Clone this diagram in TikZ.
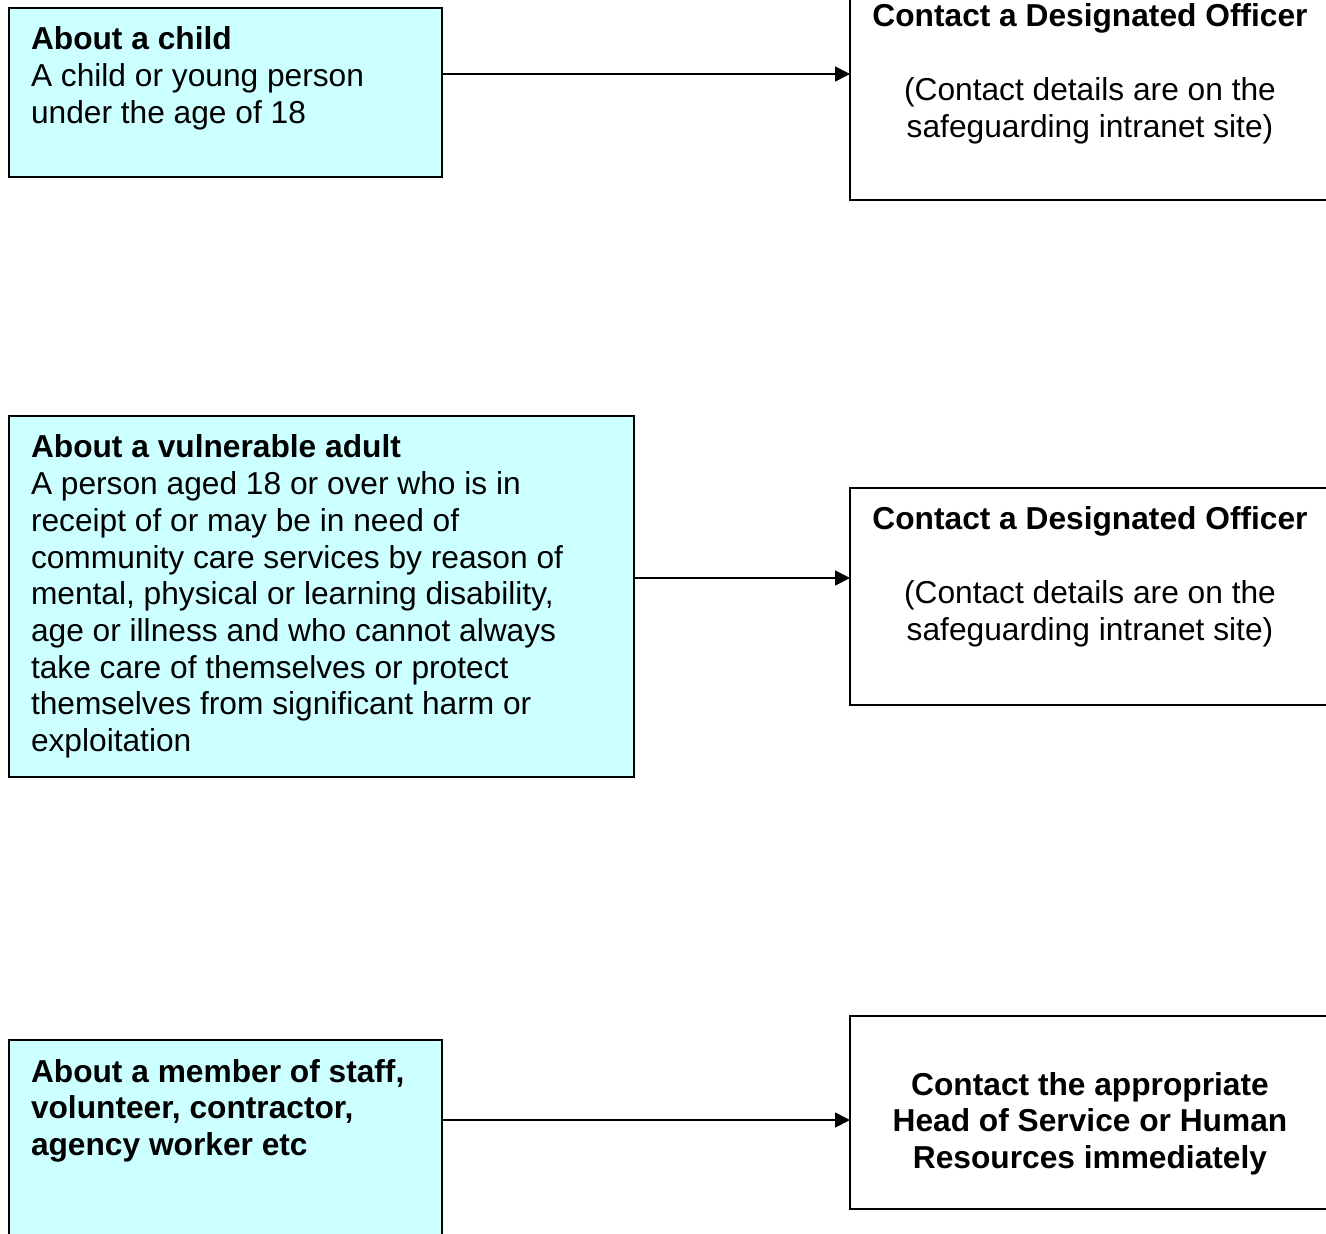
\documentclass[tikz,border=0pt]{standalone}
\usepackage{fontspec}
\setmainfont{Liberation Sans}
\usetikzlibrary{arrows.meta}
\begin{document}
\begin{tikzpicture}[x=1pt,y=-1pt,
  boxline/.style={draw=black,line width=1.8pt,inner sep=0pt,outer sep=0pt,anchor=north west},
  leftbox/.style={boxline,fill=cyanfill},
  rightbox/.style={boxline,fill=white},
  txt/.style={inner sep=0pt,outer sep=0pt,font=\fontsize{31.7}{36.7}\selectfont},
  lefttxt/.style={txt,align=left,anchor=north west},
  righttxt/.style={txt,align=center,anchor=north},
  arr/.style={line width=1.8pt,-{Triangle[length=15pt,width=15pt]}}]
\definecolor{cyanfill}{HTML}{CCFFFF}
\clip (0,0) rectangle (1326,1234);
\fill[white] (0,0) rectangle (1326,1234);
% left boxes
\node[leftbox,minimum width=433pt,minimum height=169pt] (child) at (9,8) {};
\node[leftbox,minimum width=625pt,minimum height=361pt] (adult) at (9,416) {};
\node[leftbox,minimum width=433pt,minimum height=210pt] (staff) at (9,1040) {};
% right boxes
\node[rightbox,minimum width=500pt,minimum height=210pt] (off1) at (850,-10) {};
\node[rightbox,minimum width=500pt,minimum height=217pt] (off2) at (850,488) {};
\node[rightbox,minimum width=500pt,minimum height=193pt] (hr) at (850,1016) {};
% texts
\node[lefttxt] (tchild) at (31,24.3) {\strut\textbf{About a child}\\A child or young person\\under the age of 18};
\node[lefttxt] (tadult) at (31,432.3) {\strut\textbf{About a vulnerable adult}\\A person aged 18 or over who is in\\receipt of or may be in need of\\community care services by reason of\\mental, physical or learning disability,\\age or illness and who cannot always\\take care of themselves or protect\\themselves from significant harm or\\exploitation};
\node[lefttxt,font=\fontsize{31.7}{36.7}\selectfont\bfseries] (tstaff) at (31,1056.3) {\strut About a member of staff,\\volunteer, contractor,\\agency worker etc};
\node[righttxt] (toff1) at (1090,1.3) {\strut\textbf{Contact a Designated Officer}\\[36.7pt](Contact details are on the\\safeguarding intranet site)};
\node[righttxt] (toff2) at (1090,504.3) {\strut\textbf{Contact a Designated Officer}\\[36.7pt](Contact details are on the\\safeguarding intranet site)};
\node[righttxt,font=\fontsize{31.7}{36.7}\selectfont\bfseries] (thr) at (1090,1069.3) {\strut Contact the appropriate\\Head of Service or Human\\Resources immediately};
% arrows
\draw[arr] (child.north east |- 0,74) -- (off1.north west |- 0,74);
\draw[arr] (adult.north east |- 0,578) -- (off2.north west |- 0,578);
\draw[arr] (staff.north east |- 0,1120) -- (hr.north west |- 0,1120);
\end{tikzpicture}
\end{document}
